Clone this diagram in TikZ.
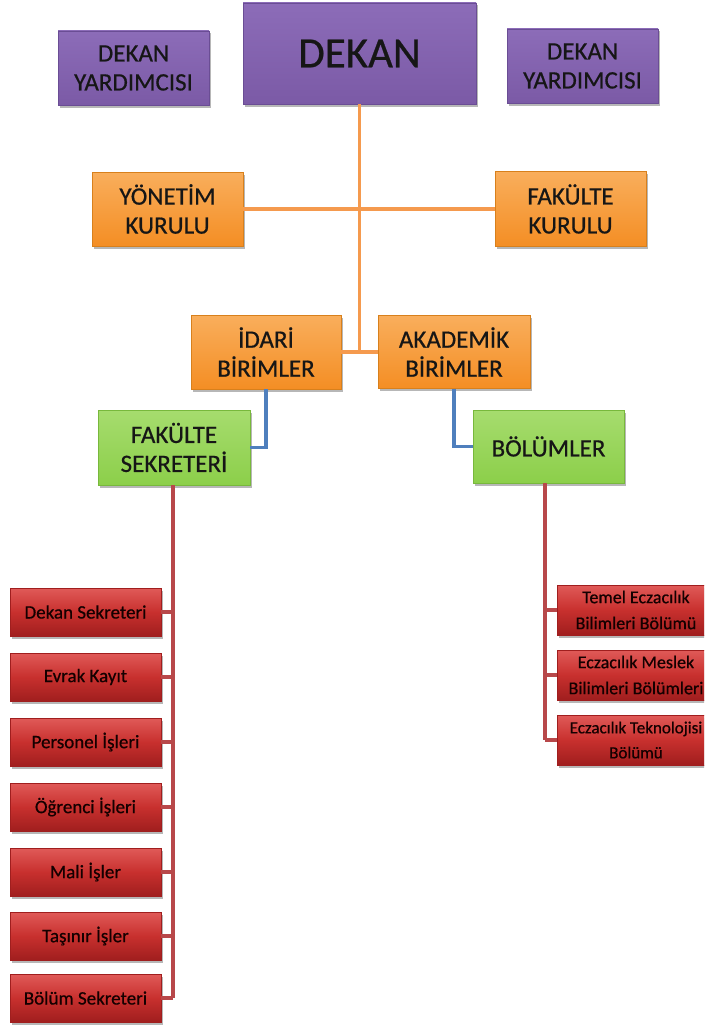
\documentclass[tikz,border=0pt]{standalone}
\usepackage{fontspec}
\setmainfont{Carlito}[FakeBold=0.6]
\usetikzlibrary{shadows,calc}
\definecolor{purpbase}{HTML}{7B5AA6}
\definecolor{purptop}{HTML}{8C6CB8}
\definecolor{purpdark}{HTML}{6A4D94}
\definecolor{orbase}{HTML}{F48E24}
\definecolor{ortop}{HTML}{F9AE5C}
\definecolor{ordark}{HTML}{D8801C}
\definecolor{grbase}{HTML}{8CCF4A}
\definecolor{grtop}{HTML}{A6DC6E}
\definecolor{grdark}{HTML}{78B83C}
\definecolor{rdbase}{HTML}{C8302E}
\definecolor{rdtop}{HTML}{E05A58}
\definecolor{rddark}{HTML}{A01E1E}
\definecolor{lnorange}{HTML}{F59A4E}
\definecolor{lnblue}{HTML}{4F7FBD}
\definecolor{lnred}{HTML}{B8484A}
\definecolor{txt}{HTML}{161616}
\tikzset{
  box/.style={rectangle, inner sep=2pt, align=center, text=txt,
    drop shadow={shadow xshift=1.5pt, shadow yshift=-2.5pt, opacity=0.4, fill=black!70}},
  pbox/.style={box, top color=purptop, bottom color=purpbase, draw=purpdark, line width=0.5pt},
  obox/.style={box, top color=ortop, bottom color=orbase, draw=ordark, line width=0.5pt},
  gbox/.style={box, top color=grtop, bottom color=grbase, draw=grdark, line width=0.5pt},
  rbox/.style={box, top color=rdtop, bottom color=rddark, middle color=rdbase, draw=rddark, line width=0.5pt, text=black!92!red},
  capsfont/.style={font=\fontsize{25}{29}\selectfont},
  lnO/.style={draw=lnorange, line width=3.2pt},
  lnB/.style={draw=lnblue, line width=3.2pt},
  lnR/.style={draw=lnred, line width=3.2pt},
}
\begin{document}
\begin{tikzpicture}[x=1pt, y=-1pt]
\useasboundingbox (0,0) rectangle (704,1025);
\clip (0,0) rectangle (704,1025);
\fill[white] (0,0) rectangle (704,1025);

\coordinate (j) at (359.5,352);

% top boxes
\node[pbox, minimum width=151pt, minimum height=74pt, capsfont] (dy1) at (133.5,68) {DEKAN\\YARDIMCISI};
\node[pbox, minimum width=233pt, minimum height=101pt, font=\fontsize{43}{46}\selectfont] (dekan) at (359.5,53.5) {DEKAN};
\node[pbox, minimum width=151pt, minimum height=74pt, capsfont] (dy2) at (582.5,66) {DEKAN\\YARDIMCISI};

\node[obox, minimum width=151pt, minimum height=74pt, capsfont] (yon) at (167.5,209) {YÖNETİM\\KURULU};
\node[obox, minimum width=151pt, minimum height=75pt, capsfont] (fak) at (570.5,209) {FAKÜLTE\\KURULU};

\node[obox, minimum width=150pt, minimum height=74pt, capsfont] (idari) at (266,352) {İDARİ\\BİRİMLER};
\node[obox, minimum width=152pt, minimum height=73pt, capsfont] (akad) at (454,352) {AKADEMİK\\BİRİMLER};

\node[gbox, minimum width=152pt, minimum height=75pt, capsfont] (fsek) at (174,447.5) {FAKÜLTE\\SEKRETERİ};
\node[gbox, minimum width=151pt, minimum height=73pt, capsfont] (bol) at (548.5,446.5) {BÖLÜMLER};

% left red column
\foreach \n/\y/\t in {l1/612/Dekan Sekreteri, l2/677/Evrak Kayıt, l3/742/Personel İşleri, l4/807/Öğrenci İşleri, l5/872/Mali İşler, l6/936/Taşınır İşler, l7/998/Bölüm Sekreteri}{
  \node[rbox, minimum width=151pt, minimum height=48pt, font=\fontsize{19}{22}\selectfont] (\n) at (85.5,\y) {\t};
}
% right red column
\node[rbox, minimum width=158pt, minimum height=50pt, font=\fontsize{18}{26}\selectfont] (r1) at (636,610) {Temel Eczacılık\\Bilimleri Bölümü};
\node[rbox, minimum width=158pt, minimum height=50pt, font=\fontsize{18}{26}\selectfont] (r2) at (636,675) {Eczacılık Meslek\\Bilimleri Bölümleri};
\node[rbox, minimum width=158pt, minimum height=50pt, font=\fontsize{17}{25}\selectfont] (r3) at (636,740) {Eczacılık Teknolojisi\\Bölümü};

% orange connectors
\draw[lnO] (dekan.south) -- (j);
\draw[lnO] (yon.east) -- (fak.west);
\draw[lnO] (idari.east) -- (akad.west);

% blue connectors
\draw[lnB] (idari.south) |- (fsek.east);
\draw[lnB] (akad.south) |- (bol.west);

% red connectors left
\coordinate (ltop) at ([xshift=-1pt]fsek.south);
\draw[lnR] (ltop) -- (ltop |- l7.east);
\foreach \n in {l1,l2,l3,l4,l5,l6,l7}{
  \draw[lnR] (\n.east) -- (\n.east -| ltop);
}
% red connectors right
\coordinate (rtop) at ([xshift=-3.5pt]bol.south);
\draw[lnR] (rtop) -- (rtop |- r3.west);
\foreach \n in {r1,r2,r3}{
  \draw[lnR] (\n.west) -- (\n.west -| rtop);
}
\end{tikzpicture}
\end{document}
